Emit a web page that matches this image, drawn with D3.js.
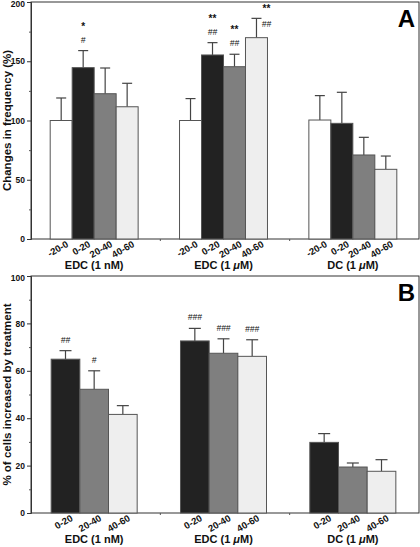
<!DOCTYPE html>
<html><head><meta charset="utf-8">
<script src="https://cdn.jsdelivr.net/npm/d3@7"></script>
<style>
html,body{margin:0;padding:0;background:#fff;}
svg{display:block;font-family:"Liberation Sans",Arial,Helvetica,sans-serif;}
</style></head>
<body><svg id="c" width="420" height="547"></svg>
<script>
// ---------- data ----------
const groupsA = ["EDC (1 nM)", "EDC (1 μM)", "DC (1 μM)"];
const periodsA = ["-20-0", "0-20", "20-40", "40-60"];
const valuesA = [
  [100, 144.6, 122.6, 111.6],
  [100, 155.3, 145.4, 169.9],
  [100.4, 97.6, 70.9, 58.8]
];
const errA = [
  [119, 159, 144.3, 131.4],
  [118.5, 165.7, 155.9, 186.2],
  [121, 123.8, 85.8, 70]
];
const starsA = [
  ["", "*", "", ""],
  ["", "**", "**", "**"],
  ["", "", "", ""]
];
const hashA = [
  ["", "#", "", ""],
  ["", "##", "##", "##"],
  ["", "", "", ""]
];
const ticksA = [0, 50, 100, 150, 200];

const groupsB = ["EDC (1 nM)", "EDC (1 μM)", "DC (1 μM)"];
const periodsB = ["0-20", "20-40", "40-60"];
const valuesB = [
  [64.9, 52.2, 41.6],
  [72.6, 67.4, 66.1],
  [29.8, 19.4, 17.6]
];
const errB = [
  [68.5, 60.0, 45.3],
  [77.9, 73.5, 73.1],
  [33.5, 21.1, 22.5]
];
const hashB = [
  ["##", "#", ""],
  ["###", "###", "###"],
  ["", "", ""]
];
const ticksB = [0, 20, 40, 60, 80, 100];

const fillOf = {"-20-0": "#ffffff", "0-20": "#222222", "20-40": "#7f7f7f", "40-60": "#eeeeee"};

// ---------- drawing ----------
const svg = d3.select("#c");
const L = 31, R = 419;

function groupLabel(g, text, x, y) {
  const t = g.append("text").attr("x", x).attr("y", y).attr("text-anchor", "middle")
    .attr("font-size", 11).attr("font-weight", "bold").attr("fill", "#111");
  const parts = text.split("μ");
  t.append("tspan").text(parts[0]);
  if (parts.length > 1) {
    t.append("tspan").attr("font-style", "italic").text("μ");
    t.append("tspan").text(parts[1]);
  }
}

function panel(opts) {
  const {top, bottom, ymax, ticks, minorStep, groups, periods, values, errs, ann1, ann2, title, letter, capW} = opts;
  const g = svg.append("g");
  const y = d3.scaleLinear().domain([0, ymax]).range([bottom, top]);
  const x0 = d3.scaleBand().domain(groups.map((d, i) => i)).range([L - 1.5, R - 1.5])
    .paddingInner(periods.length === 4 ? 0.32 : 0.335).paddingOuter(periods.length === 4 ? 0.16 : 0.1675);
  const x1 = d3.scaleBand().domain(periods).range([0, x0.bandwidth()]);

  // frame
  g.append("rect").attr("x", L).attr("y", top).attr("width", R - L).attr("height", bottom - top)
    .attr("fill", "none").attr("stroke", "#333").attr("stroke-width", 1);

  // y axis
  const ax = g.append("g").attr("transform", `translate(${L},0)`)
    .call(d3.axisLeft(y).tickValues(ticks).tickSize(4).tickPadding(2));
  ax.select(".domain").attr("stroke", "#333");
  ax.selectAll(".tick line").attr("stroke", "#333");
  ax.selectAll(".tick text").attr("font-size", 8.5).attr("font-weight", "bold")
    .attr("font-family", "Liberation Sans, Arial, sans-serif").attr("fill", "#111")
    .attr("dy", d => d === ymax ? "0.55em" : "0.32em");
  const minor = d3.range(minorStep, ymax, minorStep * 2);
  g.append("g").selectAll("line").data(minor).join("line")
    .attr("x1", L - 2).attr("x2", L).attr("y1", d => y(d) + 0.5).attr("y2", d => y(d) + 0.5)
    .attr("stroke", "#555");

  // x separators ticks
  g.append("g").selectAll("line").data([1, 2]).join("line")
    .attr("x1", i => L + (R - L) * i / 3).attr("x2", i => L + (R - L) * i / 3)
    .attr("y1", bottom).attr("y2", bottom + 2).attr("stroke", "#555");

  groups.forEach((grp, gi) => {
    const gx = x0(gi);
    const gg = g.append("g").attr("transform", `translate(${gx},0)`);
    periods.forEach((p, pi) => {
      const v = values[gi][pi], e = errs[gi][pi];
      const bx = x1(p), bw = x1.bandwidth(), cx = bx + bw / 2;
      // error bar
      gg.append("line").attr("x1", cx).attr("x2", cx).attr("y1", y(v)).attr("y2", y(e))
        .attr("stroke", "#444").attr("stroke-width", 1.2);
      gg.append("line").attr("x1", cx - capW / 2).attr("x2", cx + capW / 2).attr("y1", y(e)).attr("y2", y(e))
        .attr("stroke", "#444").attr("stroke-width", 1.2);
      gg.append("rect").attr("x", bx).attr("y", y(v)).attr("width", bw).attr("height", y(0) - y(v))
        .attr("fill", fillOf[p]).attr("stroke", "#555").attr("stroke-width", 1);
      // annotations: placed above the error cap; if no room, beside it
      const hasRoom = y(e) - 24 > top + 6;
      const ax0 = hasRoom ? cx : cx + 10;
      const yStar = hasRoom ? y(e) - 21 : top + 10;
      const yHash = hasRoom ? y(e) - 8 : top + 25;
      if (ann1 && ann1[gi][pi]) {
        gg.append("text").attr("x", ax0).attr("y", yStar).attr("text-anchor", "middle")
          .attr("font-size", 10).attr("font-weight", "bold").attr("fill", "#111").text(ann1[gi][pi]);
      }
      if (ann2[gi][pi]) {
        gg.append("text").attr("x", ax0).attr("y", yHash).attr("text-anchor", "middle")
          .attr("font-size", 8.5).attr("font-style", "italic").attr("fill", "#111").text(ann2[gi][pi]);
      }
      // category label
      gg.append("text").attr("transform", `translate(${cx + 8},${bottom + 7}) rotate(-30)`)
        .attr("text-anchor", "end").attr("font-size", 9.5).attr("font-weight", "bold").attr("fill", "#111").text(p);
    });
    groupLabel(g, grp, gx + x0.bandwidth() / 2, bottom + 30);
  });

  // axis title
  g.append("text").attr("transform", `translate(11,${(top + bottom) / 2}) rotate(-90)`)
    .attr("text-anchor", "middle").attr("font-size", 11.5).attr("font-weight", "bold").attr("fill", "#111").text(title);
  // panel letter
  g.append("text").attr("x", 415).attr("y", top + 25).attr("text-anchor", "end")
    .attr("font-size", 24).attr("font-weight", "bold").attr("fill", "#000").text(letter);
}

panel({top: 2, bottom: 239, ymax: 200, ticks: ticksA, minorStep: 25,
  groups: groupsA, periods: periodsA, values: valuesA, errs: errA, ann1: starsA, ann2: hashA,
  title: "Changes in frequency (%)", letter: "A", capW: 10});
panel({top: 276, bottom: 513, ymax: 100, ticks: ticksB, minorStep: 10,
  groups: groupsB, periods: periodsB, values: valuesB, errs: errB, ann1: null, ann2: hashB,
  title: "% of cells increased by treatment", letter: "B", capW: 12});
</script></body></html>
